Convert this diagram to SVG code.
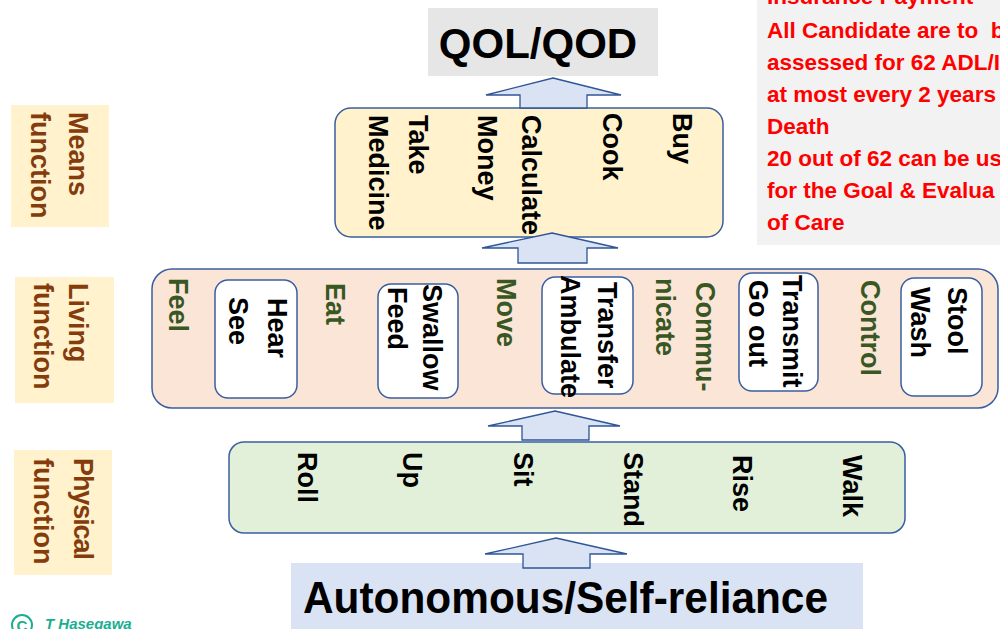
<svg xmlns="http://www.w3.org/2000/svg" width="1000" height="629" viewBox="0 0 1000 629">
<style>
.t{font-family:"Liberation Sans",Arial,sans-serif;font-weight:bold;font-size:27px}
.blk{fill:#000}
.grn{fill:#385723}
.brn{fill:#843C0C}
.red{fill:#FF0000;font-size:22.5px;white-space:pre}
.box{stroke:#3A5FA0;stroke-width:1.5}
.arrow{fill:#DAE3F3;stroke:#2F5597;stroke-width:1.3}
.lbl{fill:#FFF2CC}
.big{font-size:42px}
.huge{font-size:45px}
.cr{font-family:"Liberation Sans",Arial,sans-serif;font-weight:bold;font-size:15px;fill:#1BAE8E}
</style>
<rect width="1000" height="629" fill="#fff"/>

<g id="note">
<rect x="757" y="0" width="243" height="245" fill="#F2F2F2"/>
<text class="t red" x="767" y="4">Insurance Payment</text>
<text class="t red" x="767" y="38" xml:space="preserve">All Candidate are to  b</text>
<text class="t red" x="767" y="70">assessed for 62 ADL/I</text>
<text class="t red" x="767" y="102">at most every 2 years</text>
<text class="t red" x="767" y="134">Death</text>
<text class="t red" x="767" y="166">20 out of 62 can be us</text>
<text class="t red" x="767" y="198">for the Goal &amp; Evalua</text>
<text class="t red" x="767" y="230">of Care</text>
</g>

<g id="qol">
<rect x="428" y="8" width="230" height="68" fill="#E7E6E6"/>
<text class="t blk big" x="538" y="58" text-anchor="middle">QOL/QOD</text>
</g>

<g id="label-means">
<rect class="lbl" x="11" y="105" width="98" height="122"/>
<text class="t brn" transform="translate(69,112) rotate(90)">Means</text>
<text class="t brn" transform="translate(31,112) rotate(90)">function</text>
</g>
<g id="label-living">
<rect class="lbl" x="15" y="277" width="99" height="126"/>
<text class="t brn" transform="translate(69,283) rotate(90)">Living</text>
<text class="t brn" transform="translate(34,283) rotate(90)">function</text>
</g>
<g id="label-physical">
<rect class="lbl" x="14" y="450" width="98" height="125"/>
<text class="t brn" transform="translate(74,458) rotate(90)" textLength="102">Physical</text>
<text class="t brn" transform="translate(34,458) rotate(90)">function</text>
</g>

<g id="means">
<rect class="box" x="335" y="108" width="388" height="129" rx="16" fill="#FFF2CC"/>
<text class="t blk" transform="translate(673,113) rotate(90)">Buy</text>
<text class="t blk" transform="translate(603,113) rotate(90)">Cook</text>
<text class="t blk" transform="translate(522,115) rotate(90)">Calculate</text>
<text class="t blk" transform="translate(478,115) rotate(90)">Money</text>
<text class="t blk" transform="translate(409,115) rotate(90)">Take</text>
<text class="t blk" transform="translate(369,115) rotate(90)">Medicine</text>
</g>

<g id="living">
<rect class="box" x="152" y="269" width="846" height="139" rx="20" fill="#FBE5D6"/>
<text class="t grn" transform="translate(169,278) rotate(90)">Feel</text>
<text class="t grn" transform="translate(326,283) rotate(90)">Eat</text>
<text class="t grn" transform="translate(497,278) rotate(90)">Move</text>
<text class="t grn" transform="translate(696,282) rotate(90)">Commu-</text>
<text class="t grn" transform="translate(656,278) rotate(90)">nicate</text>
<text class="t grn" transform="translate(861,280) rotate(90)">Control</text>
</g>
<g id="hear-see">
<rect class="box" x="215" y="280" width="82" height="118" rx="13" fill="#fff"/>
<text class="t blk" transform="translate(268,298) rotate(90)">Hear</text>
<text class="t blk" transform="translate(229,297) rotate(90)">See</text>
</g>
<g id="swallow-feed">
<rect class="box" x="378" y="284" width="80" height="114" rx="13" fill="#fff"/>
<text class="t blk" transform="translate(423,284) rotate(90)">Swallow</text>
<text class="t blk" transform="translate(388,287) rotate(90)">Feed</text>
</g>
<g id="transfer-ambulate">
<rect class="box" x="542" y="277" width="91" height="117" rx="13" fill="#fff"/>
<text class="t blk" transform="translate(598,282) rotate(90)">Transfer</text>
<text class="t blk" transform="translate(561,275) rotate(90)">Ambulate</text>
</g>
<g id="transmit-goout">
<rect class="box" x="739" y="273" width="79" height="118" rx="13" fill="#fff"/>
<text class="t blk" transform="translate(783,275) rotate(90)">Transmit</text>
<text class="t blk" transform="translate(749,280) rotate(90)">Go out</text>
</g>
<g id="stool-wash">
<rect class="box" x="901" y="278" width="81" height="118" rx="13" fill="#fff"/>
<text class="t blk" transform="translate(948,287) rotate(90)">Stool</text>
<text class="t blk" transform="translate(911,287) rotate(90)">Wash</text>
</g>

<g id="physical">
<rect class="box" x="229" y="442" width="676" height="91" rx="15" fill="#E2F0D9"/>
<text class="t blk" transform="translate(298,452) rotate(90)">Roll</text>
<text class="t blk" transform="translate(403,452) rotate(90)">Up</text>
<text class="t blk" transform="translate(514,452) rotate(90)">Sit</text>
<text class="t blk" transform="translate(624,452) rotate(90)">Stand</text>
<text class="t blk" transform="translate(733,455) rotate(90)">Rise</text>
<text class="t blk" transform="translate(843,455) rotate(90)">Walk</text>
</g>

<g id="autonomous">
<rect x="291" y="563" width="572" height="66" fill="#DAE3F3"/>
<text class="t blk huge" x="303" y="613" textLength="525" lengthAdjust="spacingAndGlyphs">Autonomous/Self-reliance</text>
</g>

<g id="connectors">
<polygon class="arrow" points="553,78 621,95 587,95 587,108 520,108 520,95 486,95"/>
<polygon class="arrow" points="552,233 618,248 587,248 587,263 518,263 518,248 482,248"/>
<polygon class="arrow" points="555,411 620,426 589,426 589,440 522,440 522,426 488,426"/>
<polygon class="arrow" points="556,538 627,554 590,554 590,568 523,568 523,554 485,554"/>
</g>

<g id="credit">
<circle cx="22" cy="625" r="10" fill="none" stroke="#1BAE8E" stroke-width="2"/>
<text class="cr" x="22" y="631" text-anchor="middle">C</text>
<text class="cr" x="45" y="629" font-style="italic">T Hasegawa</text>
</g>
</svg>
